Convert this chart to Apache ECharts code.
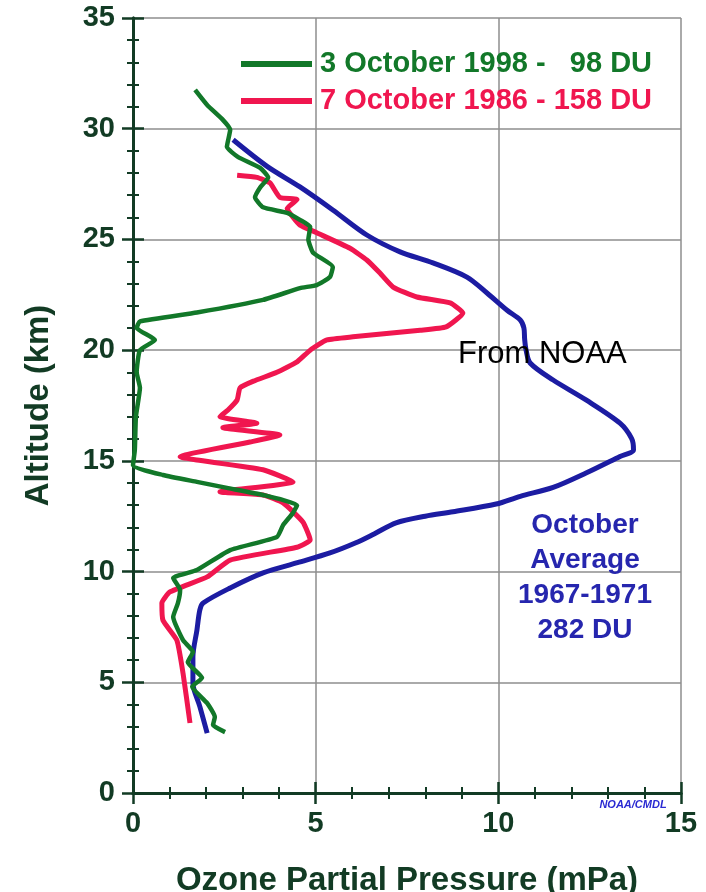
<!DOCTYPE html>
<html>
<head>
<meta charset="utf-8">
<script src="https://cdn.jsdelivr.net/npm/echarts@6/dist/echarts.min.js"></script>
<style>
  html, body { margin: 0; padding: 0; background: #ffffff; }
  #chart { width: 706px; height: 892px; }
</style>
</head>
<body>
<div id="chart"></div>
<script>
// Ozone sonde profiles over the South Pole: [partial pressure (mPa), altitude (km)]
const seriesNames = ['3 October 1998 -   98 DU', '7 October 1986 - 158 DU', 'October Average 1967-1971'];

const profile1998 = [
  [1.70,31.75],[2.03,31.07],[2.46,30.4],[2.66,29.95],[2.57,29.18],[2.87,28.73],[3.48,28.23],
  [3.70,27.8],[3.48,27.35],[3.34,26.9],[3.56,26.45],[4.22,26.2],[4.57,25.88],[4.85,25.57],
  [4.80,25.0],[4.93,24.4],[5.47,23.76],[5.39,23.3],[5.03,22.94],[4.57,22.8],[3.56,22.27],[1.75,21.7],
  [0.19,21.3],[0.10,21.0],[0.60,20.46],[0.19,20.0],[0.10,19.0],[0.19,18.3],[0.08,17.0],
  [0.05,15.5],[0.00,14.8],[0.82,14.36],[1.75,14.05],[2.57,13.78],[3.56,13.46],[4.49,13.0],
  [4.38,12.65],[4.11,12.1],[3.94,11.56],[2.66,10.97],[1.75,10.07],[1.10,9.71],[1.29,9.17],
  [1.23,8.58],[1.10,7.95],[1.37,6.9],[1.64,6.37],[1.50,5.9],[1.89,5.2],[1.62,4.8],
  [2.03,4.06],[2.24,3.43],[2.19,3.07],[2.52,2.75]
];

const profile1986 = [
  [2.85,27.9],[3.39,27.8],[3.75,27.55],[4.02,26.9],[4.49,26.8],[4.22,26.4],[4.38,26.0],
  [4.57,25.65],[5.03,25.3],[5.94,24.6],[6.40,24.07],[6.76,23.48],[7.12,22.85],[7.77,22.4],
  [8.68,22.13],[9.03,21.68],[8.57,21.05],[7.86,20.9],[6.02,20.6],[5.31,20.46],[4.85,20.0],
  [4.49,19.47],[3.94,19.0],[3.30,18.6],[2.93,18.3],[2.85,17.75],[2.60,17.3],[2.38,17.0],
  [3.39,16.7],[2.46,16.5],[4.02,16.17],[3.20,15.85],[1.29,15.18],[1.75,15.04],[3.56,14.6],
  [4.38,14.05],[2.38,13.6],[3.56,13.46],[4.11,13.1],[4.65,12.24],[4.85,11.43],[4.49,11.1],
  [2.66,10.52],[2.03,9.76],[1.01,9.08],[0.79,8.58],[0.82,7.8],[1.20,6.9],[1.37,5.4],[1.56,3.16]
];

const profileAverage = [
  [2.74,29.5],[3.67,28.3],[4.57,27.37],[5.47,26.33],[6.40,25.2],[7.31,24.44],[8.21,23.94],
  [9.14,23.3],[9.69,22.58],[10.24,21.8],[10.60,21.36],[10.70,21.0],[10.72,20.5],[10.76,20.0],
  [10.87,19.42],[11.50,18.65],[12.40,17.75],[13.33,16.7],[13.65,16.0],[13.70,15.5],
  [13.33,15.2],[12.40,14.45],[11.50,13.8],[10.60,13.4],[9.94,13.05],[8.76,12.7],[8.00,12.5],
  [7.20,12.2],[6.60,11.7],[6.10,11.3],[5.39,10.84],[4.50,10.4],[3.56,9.94],[2.66,9.26],
  [1.92,8.58],[1.83,8.27],[1.75,7.36],[1.64,6.14],[1.64,4.97],[1.83,3.9],[2.03,2.7]
];

const averageLabel = ['October', 'Average', '1967-1971', '282 DU'];

const FONT = '"Liberation Sans", Arial, Helvetica, sans-serif';
const AXIS_COLOR = '#123b24';
const GREEN = '#127829';
const RED = '#f0164f';
const BLUE = '#1c1ca2';

const chart = echarts.init(document.getElementById('chart'), null, { renderer: 'canvas' });

// Shared style for all four sides of the plot frame (ticks point into the plot)
function frameAxis(extra) {
  return Object.assign({
    type: 'value',
    interval: 5,
    axisLine: { show: true, lineStyle: { color: AXIS_COLOR, width: 3 } },
    axisTick: { show: true, inside: true, length: 11, lineStyle: { color: AXIS_COLOR, width: 2.5 } },
    minorTick: { show: true, splitNumber: 5, length: 6, lineStyle: { color: AXIS_COLOR, width: 2 } },
    splitLine: { show: false },
    axisLabel: { show: false }
  }, extra);
}

const option = {
  backgroundColor: '#ffffff',
  animation: false,
  grid: { left: 133, right: 25, top: 18, bottom: 99, containLabel: false, outerBoundsMode: 'none' },
  xAxis: [
    frameAxis({
      position: 'bottom', min: 0, max: 15,
      splitLine: { show: true, lineStyle: { color: '#8e8e8e', width: 1.5 } },
      axisLabel: { show: true, margin: 16, color: AXIS_COLOR, fontFamily: FONT, fontWeight: 'bold', fontSize: 29 },
      name: 'Ozone Partial Pressure (mPa)',
      nameLocation: 'middle', nameGap: 71,
      nameTextStyle: { color: AXIS_COLOR, fontFamily: FONT, fontWeight: 'bold', fontSize: 33 }
    }),
    frameAxis({ position: 'top', min: 0, max: 15 })
  ],
  yAxis: [
    frameAxis({
      position: 'left', min: 0, max: 35,
      splitLine: { show: true, lineStyle: { color: '#8e8e8e', width: 1.5 } },
      axisLabel: { show: true, margin: 18, color: AXIS_COLOR, fontFamily: FONT, fontWeight: 'bold', fontSize: 29 },
      name: 'Altitude (km)',
      nameLocation: 'middle', nameGap: 78, nameRotate: 90,
      nameTextStyle: { color: AXIS_COLOR, fontFamily: FONT, fontWeight: 'bold', fontSize: 33 }
    }),
    frameAxis({ position: 'right', min: 0, max: 35 })
  ],
  legend: {
    orient: 'vertical',
    left: 236, top: 44,
    itemWidth: 71, itemHeight: 14, itemGap: 7,
    icon: 'path://M0,4 L71,4 L71,10 L0,10 Z',
    textStyle: { fontFamily: FONT, fontWeight: 'bold', fontSize: 29, lineHeight: 30, padding: [0, 0, 0, 3] },
    data: [
      { name: seriesNames[0], itemStyle: { color: GREEN }, textStyle: { color: GREEN } },
      { name: seriesNames[1], itemStyle: { color: RED }, textStyle: { color: RED } }
    ],
    selectedMode: false
  },
  series: [
    {
      name: seriesNames[2], type: 'line', data: profileAverage,
      showSymbol: false, symbol: 'none', z: 3, smooth: 0.3,
      lineStyle: { color: BLUE, width: 5 }, itemStyle: { color: BLUE }
    },
    {
      name: seriesNames[1], type: 'line', data: profile1986,
      showSymbol: false, symbol: 'none', z: 4, smooth: 0.15,
      lineStyle: { color: RED, width: 5, join: 'round' }, itemStyle: { color: RED }
    },
    {
      name: seriesNames[0], type: 'line', data: profile1998,
      showSymbol: false, symbol: 'none', z: 5, smooth: 0.15,
      lineStyle: { color: GREEN, width: 4.5, join: 'round' }, itemStyle: { color: GREEN }
    }
  ],
  graphic: [
    {
      type: 'text', left: 458, top: 339, z: 10,
      style: { text: 'From NOAA', fill: '#000000', font: '31px ' + FONT }
    },
    {
      type: 'text', x: 585, y: 508, z: 10,
      style: {
        text: averageLabel.join('\n'), fill: '#2626ae', align: 'center', verticalAlign: 'top',
        font: 'bold 28px ' + FONT, lineHeight: 35
      }
    },
    {
      type: 'text', x: 633, y: 805, z: 10,
      style: {
        text: 'NOAA/CMDL', fill: '#2a2ad2', align: 'center', verticalAlign: 'middle',
        font: 'italic bold 11px ' + FONT
      }
    }
  ]
};

chart.setOption(option);
</script>
</body>
</html>
